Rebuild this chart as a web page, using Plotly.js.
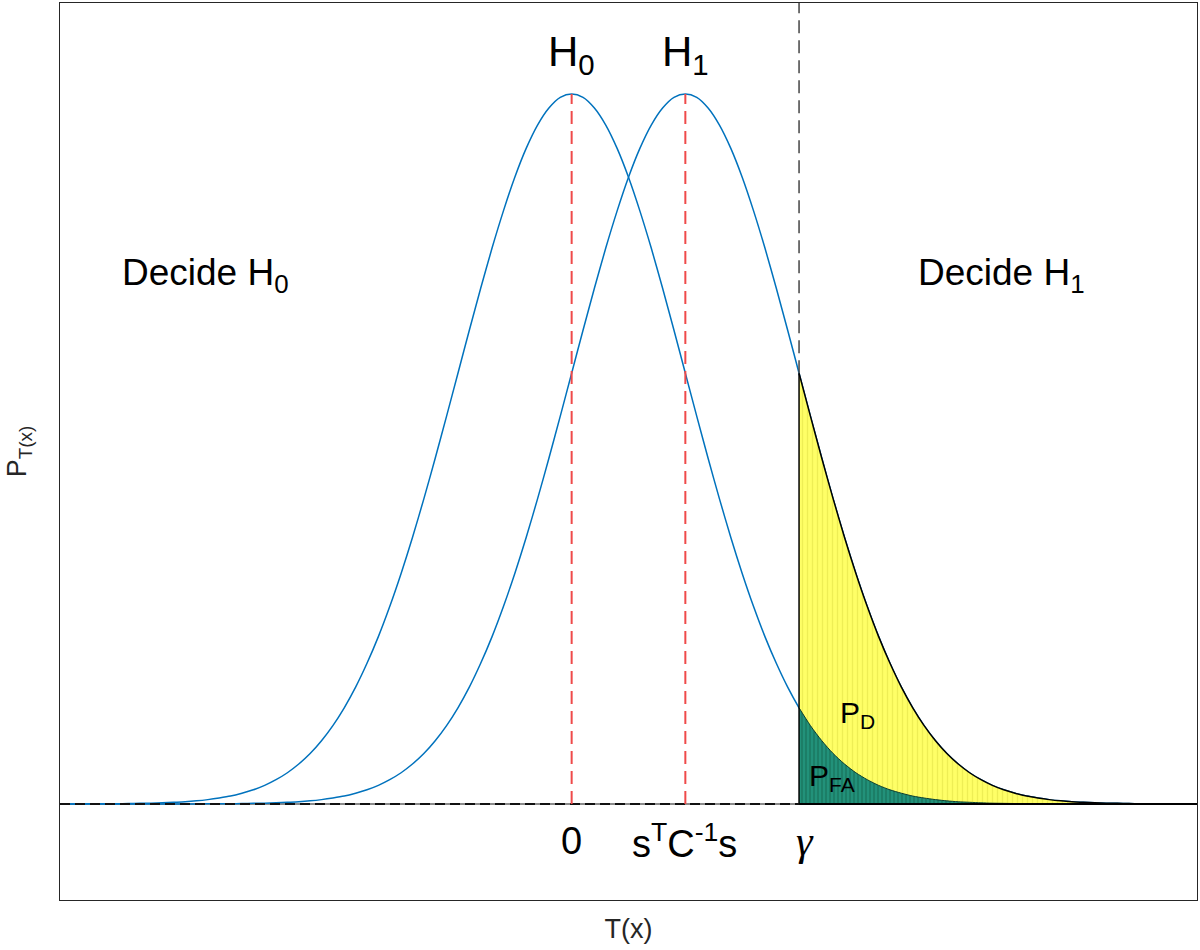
<!DOCTYPE html>
<html>
<head>
<meta charset="utf-8">
<script src="https://cdn.plot.ly/plotly-3.0.1.min.js"></script>
<style>
  body { margin: 0; background: #fff; }
  #det-plot { width: 1200px; height: 950px; }
</style>
</head>
<body>
<div id="det-plot"></div>
<script>
// test statistic grid, H0 mean at 0, H1 mean at s'C^-1 s (=1), threshold gamma (=2)
var tVals = [-4.5, -4.4, -4.3, -4.2, -4.1, -4.0, -3.9, -3.8, -3.7, -3.6, -3.5, -3.4, -3.3, -3.2, -3.1, -3.0, -2.9, -2.8, -2.7, -2.6,
  -2.5, -2.4, -2.3, -2.2, -2.1, -2.0, -1.9, -1.8, -1.7, -1.6, -1.5, -1.4, -1.3, -1.2, -1.1, -1.0, -0.9, -0.8, -0.7, -0.6,
  -0.5, -0.4, -0.3, -0.2, -0.1, 0, 0.1, 0.2, 0.3, 0.4, 0.5, 0.6, 0.7, 0.8, 0.9, 1.0, 1.1, 1.2, 1.3, 1.4,
  1.5, 1.6, 1.7, 1.8, 1.9, 2.0, 2.1, 2.2, 2.3, 2.4, 2.5, 2.6, 2.7, 2.8, 2.9, 3.0, 3.1, 3.2, 3.3, 3.4,
  3.5, 3.6, 3.7, 3.8, 3.9, 4.0, 4.1, 4.2, 4.3, 4.4, 4.5, 4.6, 4.7, 4.8, 4.9, 5.0, 5.1, 5.2, 5.3, 5.4, 5.5];

var pdfH0 = [0, 0, 0, 0.0001, 0.0001, 0.0001, 0.0002, 0.0003, 0.0004, 0.0006, 0.0009, 0.0012, 0.0017, 0.0024, 0.0033, 0.0044, 0.0060, 0.0079, 0.0104, 0.0136,
  0.0175, 0.0224, 0.0283, 0.0355, 0.0440, 0.0540, 0.0656, 0.0790, 0.0940, 0.1109, 0.1295, 0.1497, 0.1714, 0.1942, 0.2179, 0.2420, 0.2661, 0.2897, 0.3123, 0.3332,
  0.3521, 0.3683, 0.3814, 0.3910, 0.3970, 0.3989, 0.3970, 0.3910, 0.3814, 0.3683, 0.3521, 0.3332, 0.3123, 0.2897, 0.2661, 0.2420, 0.2179, 0.1942, 0.1714, 0.1497,
  0.1295, 0.1109, 0.0940, 0.0790, 0.0656, 0.0540, 0.0440, 0.0355, 0.0283, 0.0224, 0.0175, 0.0136, 0.0104, 0.0079, 0.0060, 0.0044, 0.0033, 0.0024, 0.0017, 0.0012,
  0.0009, 0.0006, 0.0004, 0.0003, 0.0002, 0.0001, 0.0001, 0.0001, 0, 0, 0, 0, 0, 0, 0, 0, 0, 0, 0, 0, 0];

var pdfH1 = [0, 0, 0, 0, 0, 0, 0, 0, 0, 0, 0, 0, 0, 0.0001, 0.0001, 0.0001, 0.0002, 0.0003, 0.0004, 0.0006,
  0.0009, 0.0012, 0.0017, 0.0024, 0.0033, 0.0044, 0.0060, 0.0079, 0.0104, 0.0136, 0.0175, 0.0224, 0.0283, 0.0355, 0.0440, 0.0540, 0.0656, 0.0790, 0.0940, 0.1109,
  0.1295, 0.1497, 0.1714, 0.1942, 0.2179, 0.2420, 0.2661, 0.2897, 0.3123, 0.3332, 0.3521, 0.3683, 0.3814, 0.3910, 0.3970, 0.3989, 0.3970, 0.3910, 0.3814, 0.3683,
  0.3521, 0.3332, 0.3123, 0.2897, 0.2661, 0.2420, 0.2179, 0.1942, 0.1714, 0.1497, 0.1295, 0.1109, 0.0940, 0.0790, 0.0656, 0.0540, 0.0440, 0.0355, 0.0283, 0.0224,
  0.0175, 0.0136, 0.0104, 0.0079, 0.0060, 0.0044, 0.0033, 0.0024, 0.0017, 0.0012, 0.0009, 0.0006, 0.0004, 0.0003, 0.0002, 0.0001, 0.0001, 0.0001, 0, 0, 0];

var meanH0 = 0;
var meanH1 = 1;
var gammaVal = 2;
var peakVal = 0.3989;

var axisLabels = ["0", "s<sup>T</sup>C<sup>-1</sup>s", "<i>γ</i>"];
var axisLabelPos = [0, 0.99, 2.05];

// split at threshold
var iGamma = tVals.indexOf(gammaVal);
var tRight = tVals.slice(iGamma);
var h0Right = pdfH0.slice(iGamma);
var h1Right = pdfH1.slice(iGamma);
var tFirst = tVals[0], tLast = tVals[tVals.length - 1];

var font = "Liberation Sans, Arial, sans-serif";
var blue = "#0072BD";
var red = "#ef4a4a";

var traces = [
  // baseline underneath
  { x: [tFirst, tLast], y: [0, 0], mode: "lines", line: { color: "#8a8a8a", width: 2 } },
  { x: tVals, y: pdfH0, mode: "lines", line: { color: blue, width: 1.5, shape: "spline", smoothing: 0.8 } },
  { x: tVals, y: pdfH1, mode: "lines", line: { color: blue, width: 1.5, shape: "spline", smoothing: 0.8 } },
  // P_D region
  { x: tRight, y: h1Right, mode: "lines", fill: "tozeroy", fillcolor: "#ffff66",
    fillpattern: { shape: "|", bgcolor: "#ffff66", fgcolor: "#eeee55", size: 5, solidity: 0.25 },
    line: { color: "#000", width: 1.5, shape: "spline", smoothing: 0.8 } },
  // P_FA region
  { x: tRight, y: h0Right, mode: "lines", fill: "tozeroy", fillcolor: "#1f8c70",
    fillpattern: { shape: "|", bgcolor: "#22917a", fgcolor: "#17715a", size: 4, solidity: 0.3 },
    line: { color: "#0b3d30", width: 1, shape: "spline", smoothing: 0.8 } },
  // edge of the filled area at gamma
  { x: [gammaVal, gammaVal], y: [0, h1Right[0]], mode: "lines", line: { color: "#000", width: 1.5 } },
  // baseline
  { x: [tFirst, gammaVal], y: [0, 0], mode: "lines", line: { color: "#111", width: 2, dash: "10px,5px" } },
  { x: [gammaVal, tLast], y: [0, 0], mode: "lines", line: { color: "#000", width: 2 } },
  // means
  { x: [meanH0, meanH0], y: [0, peakVal], mode: "lines", line: { color: red, width: 2, dash: "13px,7px" } },
  { x: [meanH1, meanH1], y: [0, peakVal], mode: "lines", line: { color: red, width: 2, dash: "13px,7px" } },
  // threshold
  { x: [gammaVal, gammaVal], y: [h1Right[0], 0.45], mode: "lines", line: { color: "#444", width: 1.5, dash: "13px,7px" } }
];

var annotations = [
  { x: meanH0, y: 0.421, text: "H<sub>0</sub>", font: { size: 42 } },
  { x: meanH1, y: 0.421, text: "H<sub>1</sub>", font: { size: 42 } },
  { x: -3.22, y: 0.297, text: "Decide H<sub>0</sub>", font: { size: 37 } },
  { x: 3.78, y: 0.297, text: "Decide H<sub>1</sub>", font: { size: 37 } },
  { x: 2.51, y: 0.05, text: "P<sub>D</sub>", font: { size: 30 } },
  { x: 2.29, y: 0.015, text: "P<sub>FA</sub>", font: { size: 30 } }
];
for (var i = 0; i < axisLabels.length; i++) {
  annotations.push({ x: axisLabelPos[i], y: -0.021, text: axisLabels[i],
    font: { size: i == 2 ? 42 : 38, family: i == 2 ? "Liberation Serif, serif" : font } });
}
annotations.forEach(function (a) {
  a.xref = "x"; a.yref = "y"; a.showarrow = false;
  a.xanchor = "center"; a.yanchor = "middle";
  a.font.color = "#000";
  if (!a.font.family) a.font.family = font;
});

var layout = {
  width: 1200,
  height: 950,
  margin: { l: 60, r: 3, t: 3, b: 50 },
  showlegend: false,
  paper_bgcolor: "#fff",
  plot_bgcolor: "#fff",
  font: { family: font, color: "#262626" },
  xaxis: {
    range: [-4.5, 5.5],
    showgrid: false, zeroline: false, showticklabels: false, ticks: "",
    showline: true, mirror: true, linecolor: "#262626", linewidth: 1,
    title: { text: "T(x)", font: { size: 27, color: "#262626" }, standoff: 19 }
  },
  yaxis: {
    range: [-0.054, 0.45],
    showgrid: false, zeroline: false, showticklabels: false, ticks: "",
    showline: true, mirror: true, linecolor: "#262626", linewidth: 1,
    title: { text: "P<sub>T(x)</sub>", font: { size: 27, color: "#262626" }, standoff: 24 }
  },
  annotations: annotations
};

Plotly.newPlot("det-plot", traces, layout, { staticPlot: true });
</script>
</body>
</html>
